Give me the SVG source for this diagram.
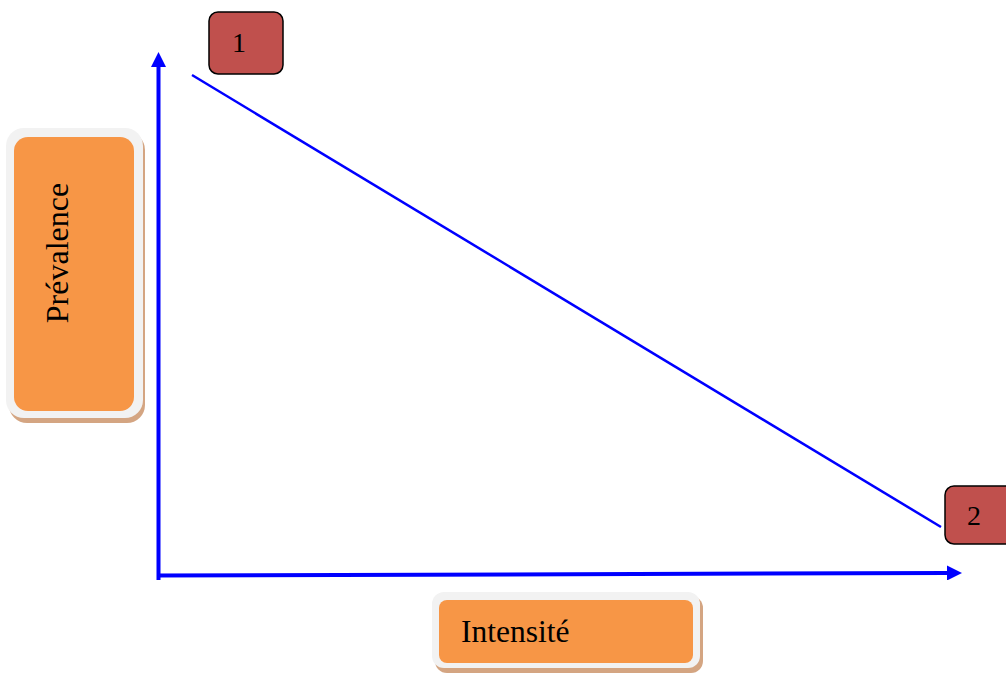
<svg xmlns="http://www.w3.org/2000/svg" width="1006" height="673" viewBox="0 0 1006 673">
<style>
.shadow{fill:#d4a582}
.outer{fill:#f2f2f2}
.inner{fill:#f79646}
.red{fill:#c0504d;stroke:#000;stroke-width:1.5}
.lbl{font-family:"Liberation Serif",serif;fill:#000}
.axis{stroke:#0000ff;stroke-width:4;fill:none}
</style>
<defs>
<marker id="ah" viewBox="0 0 10 10" refX="0" refY="5" markerWidth="3.75" markerHeight="3.75" markerUnits="strokeWidth" orient="auto">
<path d="M0,0 L10,5 L0,10 z" fill="#0000ff"/>
</marker>
</defs>
<rect width="1006" height="673" fill="#fff"/>
<g id="prevalence">
<rect class="shadow" x="9" y="132" width="136" height="291" rx="18"/>
<rect class="outer" x="6" y="128" width="137" height="290" rx="18"/>
<rect class="inner" x="14" y="137" width="120" height="274" rx="14"/>
<text class="lbl" transform="translate(68,253) rotate(-90)" text-anchor="middle" font-size="32">Prévalence</text>
</g>
<g id="intensite">
<rect class="shadow" x="435" y="596" width="268" height="77" rx="12"/>
<rect class="outer" x="432" y="592" width="268" height="76" rx="12"/>
<rect class="inner" x="439" y="600" width="254" height="63" rx="8"/>
<text class="lbl" x="461" y="642" font-size="31.5">Intensité</text>
</g>
<g id="n1">
<rect class="red" x="209" y="12" width="74" height="62" rx="9"/>
<text class="lbl" x="239" y="52" text-anchor="middle" font-size="28">1</text>
</g>
<g id="n2">
<rect class="red" x="945" y="486" width="70" height="58" rx="9"/>
<text class="lbl" x="974" y="525" text-anchor="middle" font-size="28">2</text>
</g>
<g id="connectors">
<line class="axis" x1="158.5" y1="580" x2="158.5" y2="67" marker-end="url(#ah)"/>
<line class="axis" x1="157" y1="575.5" x2="947" y2="573" marker-end="url(#ah)"/>
<line x1="192" y1="75" x2="941" y2="527" stroke="#0000ff" stroke-width="2.5"/>
</g>
</svg>
